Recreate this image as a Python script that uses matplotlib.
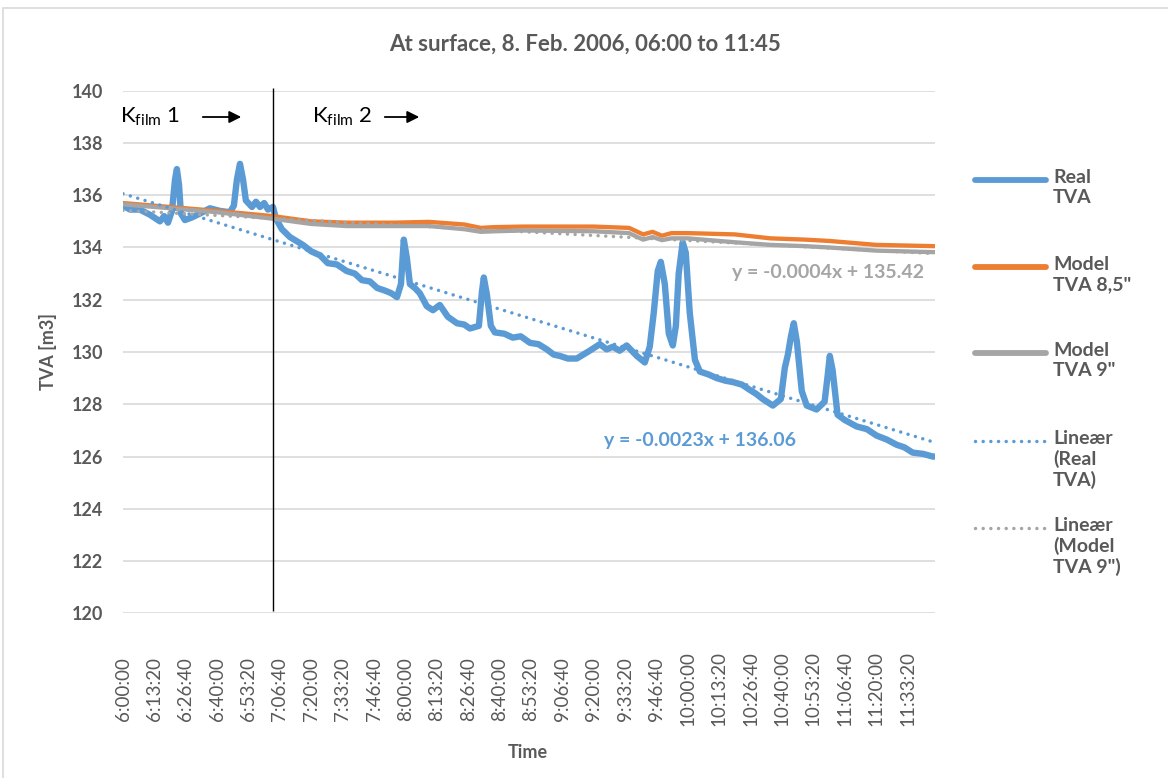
import numpy as np
import matplotlib.pyplot as plt
from matplotlib.lines import Line2D
from matplotlib.patches import Rectangle, FancyArrowPatch

plt.rcParams["font.family"] = ["Lato", "DejaVu Sans"]
plt.rcParams["mathtext.fontset"] = "custom"
plt.rcParams["mathtext.rm"] = "Lato"
plt.rcParams["mathtext.it"] = "Lato:italic"
plt.rcParams["mathtext.bf"] = "Lato:bold"

# measured TVA, minutes after 06:00
real_min = [0, 3.0, 7.2, 11.5, 15.7, 17.5, 19.1, 20.8, 22.1, 22.9, 23.8, 24.6,
            26.3, 29.3, 32.7, 36.9, 41.2, 45.4, 47.1, 48.4, 49.7, 51.0, 52.2,
            54.8, 56.5, 58.2, 60.0, 61.6, 63.7, 65.0, 67.5, 70.9, 76.4, 80.0,
            83.7, 87.0, 90.9, 95.0, 98.5, 101.5, 104.9, 108.0, 111.3, 114.0,
            116.4, 118.1, 119.3, 120.6, 121.9, 124.0, 126.1, 129.1, 131.7,
            134.6, 138.0, 141.9, 145.0, 147.4, 151.2, 152.5, 153.3, 154.6,
            156.3, 158.0, 162.0, 165.6, 169.0, 172.9, 176.5, 180.1, 183.0,
            185.6, 189.0, 192.8, 198.3, 202.6, 205.5, 208.1, 211.0, 214.0,
            218.3, 221.7, 223.8, 225.5, 227.2, 228.5, 230.2, 231.9, 233.6,
            234.9, 236.1, 237.8, 239.1, 240.8, 243.0, 245.1, 248.5, 252.3,
            256.0, 259.1, 263.0, 266.3, 269.0, 271.8, 276.1, 279.5, 281.2,
            282.5, 283.8, 285.0, 286.3, 288.4, 290.5, 294.7, 298.1, 299.4,
            300.3, 301.5, 303.6, 306.6, 311.7, 316.0, 320.2, 324.5, 328.7,
            332.0, 335.5, 340.0, 344.0, 345.0]
real_tva = [135.6, 135.45, 135.45, 135.25, 135.0, 135.2, 134.95, 135.4, 136.6,
            137.0, 136.4, 135.3, 135.05, 135.15, 135.3, 135.5, 135.4, 135.35,
            135.6, 136.6, 137.2, 136.6, 135.8, 135.55, 135.75, 135.55, 135.7,
            135.45, 135.55, 135.1, 134.7, 134.4, 134.1, 133.85, 133.7, 133.4,
            133.35, 133.1, 133.0, 132.75, 132.7, 132.45, 132.35, 132.25,
            132.1, 132.6, 134.3, 133.6, 132.6, 132.45, 132.25, 131.75, 131.6,
            131.8, 131.35, 131.1, 131.05, 130.9, 131.0, 132.3, 132.85, 132.2,
            131.0, 130.75, 130.7, 130.55, 130.6, 130.35, 130.3, 130.1, 129.9,
            129.85, 129.75, 129.75, 130.05, 130.3, 130.1, 130.2, 130.05,
            130.25, 129.85, 129.6, 130.2, 131.5, 133.1, 133.45, 132.6, 130.7,
            130.25, 131.0, 133.0, 134.2, 133.8, 131.5, 129.7, 129.25, 129.15,
            129.0, 128.9, 128.85, 128.75, 128.55, 128.4, 128.2, 127.95, 128.2,
            129.4, 129.9, 130.6, 131.1, 130.4, 128.5, 127.95, 127.8, 128.1,
            129.1, 129.85, 129.3, 127.6, 127.4, 127.15, 127.05, 126.8, 126.65,
            126.45, 126.35, 126.15, 126.1, 126.0, 126.0]

# model runs, minutes after 06:00
model_min = [0, 20, 40, 63.7, 80, 95, 115, 130, 145, 152, 158, 170, 200, 215,
             221, 225, 229, 233, 240, 260, 275, 290, 300, 320, 345]
model_85 = [135.7, 135.55, 135.4, 135.2, 135.0, 134.95, 134.95, 134.98,
            134.88, 134.75, 134.78, 134.8, 134.8, 134.75, 134.5, 134.6,
            134.45, 134.55, 134.55, 134.5, 134.35, 134.3, 134.25, 134.1,
            134.05]
model_9 = [135.65, 135.5, 135.35, 135.1, 134.9, 134.82, 134.82, 134.82,
           134.7, 134.6, 134.62, 134.65, 134.62, 134.55, 134.3, 134.4,
           134.28, 134.35, 134.35, 134.2, 134.1, 134.05, 134.0, 133.88,
           133.82]

# linear trendlines, x = sample number (logged every 5 s)
slope_real, icept_real = -0.0023, 136.06
slope_m9, icept_m9 = -0.0004, 135.42
sample_dt = 5
t_end = 345 * 60

kfilm_switch = 3820  # s after 06:00, change from K_film 1 to K_film 2

blue = "#5B9BD5"
orange = "#ED7D31"
grey = "#A5A5A5"
txt = "#595959"

W, H = 1168, 778
fig = plt.figure(figsize=(W / 100, H / 100), dpi=100)
ax = fig.add_axes([123 / W, 1 - 613.3 / H, (935 - 123) / W, (613.3 - 90.7) / H])

t_real = np.array(real_min) * 60
t_model = np.array(model_min) * 60

ax.plot(t_real, real_tva, color=blue, lw=4.6, solid_joinstyle="round",
        solid_capstyle="round", zorder=3)
ax.plot(t_model, model_85, color=orange, lw=3.1, solid_capstyle="round", zorder=4)
ax.plot(t_model, model_9, color=grey, lw=3.1, solid_capstyle="round", zorder=5)

t_tr = np.array([0, t_end])
n_tr = t_tr / sample_dt + 1
dots = (0, (0.01, 2.2))
ax.plot(t_tr, slope_real * n_tr + icept_real, color=blue, lw=2.5,
        ls=dots, dash_capstyle="round", zorder=6)
ax.plot(t_tr, slope_m9 * n_tr + icept_m9, color=grey, lw=2.5,
        ls=dots, dash_capstyle="round", zorder=6)

ax.text(15517, 133.06, f"y = {slope_m9}x + {icept_m9}", color=grey,
        fontsize=14, fontweight="bold", ha="left", va="center")
ax.text(12256, 126.6, f"y = {slope_real}x + {icept_real}", color=blue,
        fontsize=14, fontweight="bold", ha="left", va="center")

ax.vlines(kfilm_switch, 120.1, 140.1, color="black", lw=1.0, zorder=7,
          clip_on=False)

ax.set_xlim(0, t_end)
ax.set_ylim(120, 140)
ax.set_yticks(np.arange(120, 141, 2))
ticks = np.arange(0, 20001, 800)
ax.set_xticks(ticks)
ax.set_xticklabels([f"{6 + t // 3600}:{(t % 3600) // 60:02d}:{t % 60:02d}"
                    for t in ticks], rotation=90, va="center", ha="center")
ax.tick_params(axis="x", length=0, pad=54.5, labelsize=13.5, labelcolor=txt)
ax.tick_params(axis="y", length=0, pad=14, labelsize=13, labelcolor=txt)
for lab in ax.get_yticklabels():
    lab.set_fontweight("bold")
ax.grid(axis="y", color="#D9D9D9", lw=1.2)
ax.set_axisbelow(True)
for s in ax.spines.values():
    s.set_visible(False)

# K_film annotations
ax.text(-0.004, 0.95, r"K$_{\mathrm{film}}$ 1", transform=ax.transAxes,
        fontsize=16, ha="left", va="center", color="black")
ax.text(0.233, 0.95, r"K$_{\mathrm{film}}$ 2", transform=ax.transAxes,
        fontsize=16, ha="left", va="center", color="black")
for x0, x1 in [(200, 244), (382, 422)]:
    fig.add_artist(FancyArrowPatch((x0 / W, 1 - 117 / H), (x1 / W, 1 - 117 / H),
                                   transform=fig.transFigure, arrowstyle="-|>",
                                   mutation_scale=18, color="black", lw=1.3))

fig.text(585 / W, 1 - 44 / H, "At surface, 8. Feb. 2006, 06:00 to 11:45",
         fontsize=16, fontweight="bold", color=txt, ha="center", va="center")
fig.text(48 / W, 1 - 352 / H, "TVA [m3]", rotation=90, fontsize=13,
         fontweight="bold", color=txt, ha="center", va="center")
fig.text(528 / W, 1 - 752 / H, "Time", fontsize=13, fontweight="bold",
         color=txt, ha="center", va="center")

# legend
entries = [("Real\nTVA", blue, "-", 180),
           ("Model\nTVA 8,5\"", orange, "-", 267),
           ("Model\nTVA 9\"", grey, "-", 353),
           ("Lineær\n(Real\nTVA)", blue, dots, 441),
           ("Lineær\n(Model\nTVA 9\")", grey, dots, 528)]
for label, col, style, y in entries:
    if style == "-":
        ln = Line2D([975 / W, 1046 / W], [1 - y / H] * 2, color=col, lw=4.2,
                    solid_capstyle="round", transform=fig.transFigure)
    else:
        ln = Line2D([975 / W, 1046 / W], [1 - y / H] * 2, color=col, lw=2.5,
                    ls=dots, dash_capstyle="round", transform=fig.transFigure)
    fig.add_artist(ln)
    fig.text(1053 / W, 1 - (y - 11) / H, label, fontsize=14, fontweight="bold",
             color=txt, ha="left", va="top", linespacing=1.2)

fig.add_artist(Rectangle((3 / W, -0.01), 1.02, 1 - 8 / H + 0.01,
                         transform=fig.transFigure, fill=False,
                         edgecolor="#D9D9D9", lw=1.2))

fig.savefig("out.png", dpi=100)
